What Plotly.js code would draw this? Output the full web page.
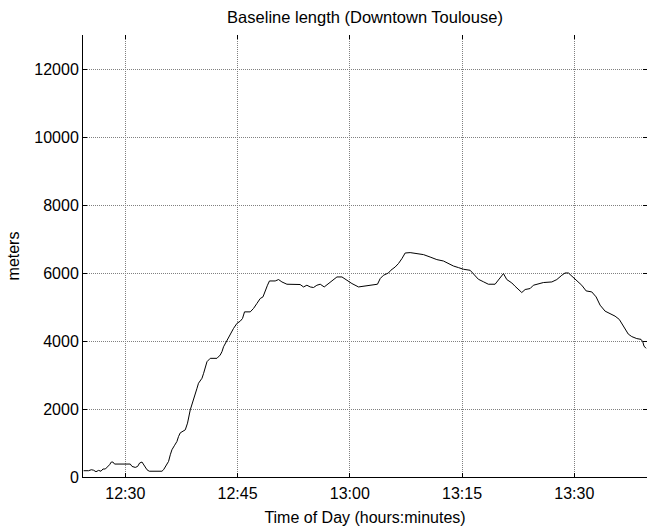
<!DOCTYPE html>
<html>
<head>
<meta charset="utf-8">
<script src="https://cdn.plot.ly/plotly-3.0.1.min.js"></script>
<style>
  html, body { margin: 0; padding: 0; background: #fff; }
  #chart { width: 649px; height: 526px; }
</style>
</head>
<body>
<div id="chart"></div>
<script>
// Time of day (HH:MM:SS) and baseline length in meters
var timeOfDay = [
  "12:24:26","12:25:06","12:25:28","12:25:46","12:26:05","12:26:26","12:26:45","12:27:01","12:27:20","12:27:38",
  "12:27:54","12:28:08","12:28:21","12:28:34","12:28:53","12:30:40","12:30:54","12:31:20","12:31:39","12:31:55",
  "12:32:14","12:32:27","12:32:40","12:32:54","12:33:12","12:34:54","12:35:07","12:35:29","12:35:47","12:36:01",
  "12:36:14","12:36:33","12:36:54","12:37:07","12:37:21","12:38:01","12:38:19","12:38:41","12:39:07","12:39:35",
  "12:39:47","12:40:15","12:40:28","12:40:41","12:40:55","12:41:21","12:42:15","12:42:41","12:42:55","12:43:08",
  "12:43:29","12:43:48","12:44:01","12:44:28","12:44:55","12:45:22","12:45:40","12:45:56","12:46:42","12:47:08",
  "12:47:35","12:48:02","12:48:24","12:48:42","12:49:00","12:49:16","12:50:02","12:50:29","12:50:56","12:51:36",
  "12:52:29","12:53:22","12:53:49","12:54:16","12:54:43","12:55:09","12:55:36","12:56:03","12:56:35","12:57:09",
  "12:57:49","12:58:17","12:58:57","12:59:37","13:00:17","13:01:10","13:01:50","13:03:10","13:03:42","13:04:04",
  "13:04:30","13:05:10","13:05:29","13:06:04","13:06:30","13:06:58","13:07:24","13:08:04","13:08:58","13:09:51",
  "13:10:44","13:11:38","13:12:31","13:13:11","13:13:51","13:14:31","13:15:11","13:16:05","13:16:31","13:17:11",
  "13:17:51","13:18:31","13:19:25","13:20:05","13:20:32","13:20:59","13:21:39","13:22:05","13:22:32","13:22:59",
  "13:23:26","13:24:06","13:24:32","13:25:12","13:25:52","13:27:00","13:27:40","13:28:20","13:28:46","13:29:13",
  "13:29:40","13:30:20","13:31:00","13:31:35","13:32:20","13:32:55","13:33:27","13:34:07","13:34:47","13:35:27",
  "13:36:01","13:36:29","13:36:47","13:37:13","13:37:41","13:38:21","13:38:55","13:39:09","13:39:19","13:39:35"
];
var meters = [
  185,185,214,199,155,194,170,235,235,287,
  361,440,440,381,381,381,311,282,311,411,
  440,370,282,214,170,170,214,361,458,654,
  801,918,1044,1191,1299,1387,1584,1974,2317,2610,
  2757,2904,3050,3197,3391,3490,3490,3587,3684,3830,
  3977,4124,4224,4370,4517,4584,4663,4857,4857,4957,
  5103,5250,5297,5494,5640,5766,5766,5807,5737,5670,
  5670,5661,5590,5640,5590,5573,5640,5670,5590,5690,
  5816,5884,5884,5787,5690,5590,5611,5661,5670,5837,
  5933,6001,6080,6177,6277,6423,6588,6600,6570,6541,
  6470,6394,6353,6277,6206,6159,6110,6080,5963,5816,
  5743,5670,5670,5837,5983,5807,5708,5611,5514,5426,
  5514,5543,5640,5670,5719,5737,5807,5933,6001,6001,
  5904,5787,5640,5473,5444,5297,5054,4878,4810,4731,
  4634,4467,4320,4203,4130,4071,4048,3977,3851,3784
];
var xTickTimes = ["12:30:00","12:45:00","13:00:00","13:15:00","13:30:00"];
var xTickLabels = ["12:30","12:45","13:00","13:15","13:30"];
var yTickValues = [0,2000,4000,6000,8000,10000,12000];
var yTickLabels = ["0","2000","4000","6000","8000","10000","12000"];
var xRange = ["12:24:21","13:39:43"];
var yRange = [0,13000];

var day = "2020-01-01 ";
function stamp(t) { return day + t; }

var font = { family: "Liberation Sans, Arial, sans-serif", size: 16, color: "#000" };
var titleFont = { family: "Liberation Sans, Arial, sans-serif", size: 16.5, color: "#000" };

var trace = {
  x: timeOfDay.map(stamp),
  y: meters,
  type: "scatter",
  mode: "lines",
  line: { color: "#000", width: 1 },
  hoverinfo: "skip",
  showlegend: false
};
// same series on the mirrored axes (invisible) so their tick marks are drawn
var mirrorTrace = {
  x: timeOfDay.map(stamp),
  y: meters,
  xaxis: "x2",
  yaxis: "y2",
  type: "scatter",
  mode: "lines",
  line: { color: "rgba(0,0,0,0)", width: 0 },
  hoverinfo: "skip",
  showlegend: false
};

var gridStyle = { showgrid: true, gridcolor: "#808080", griddash: "1px,1px", gridwidth: 1 };

var layout = {
  width: 649,
  height: 526,
  paper_bgcolor: "#fff",
  plot_bgcolor: "rgba(0,0,0,0)",
  margin: { l: 83, r: 2, t: 35, b: 49 },
  font: font,
  title: {
    text: "Baseline length (Downtown Toulouse)",
    font: titleFont,
    x: 0.5, xref: "paper",
    y: 1 - 17 / 526, yref: "container", yanchor: "middle"
  },
  xaxis: Object.assign({
    type: "date",
    range: xRange.map(stamp),
    tickmode: "array",
    tickvals: xTickTimes.map(stamp),
    ticktext: xTickLabels,
    ticks: "inside",
    ticklen: 4,
    tickcolor: "#000",
    ticklabelstandoff: 2,
    showline: true,
    linecolor: "#000",
    linewidth: 1,
    zeroline: false,
    tickfont: font,
    automargin: false,
    title: { text: "Time of Day (hours:minutes)", font: font, standoff: 10 }
  }, gridStyle),
  yaxis: Object.assign({
    range: yRange,
    tickmode: "array",
    tickvals: yTickValues,
    ticktext: yTickLabels,
    ticks: "inside",
    ticklen: 4,
    tickcolor: "#000",
    showline: true,
    linecolor: "#000",
    linewidth: 1,
    zeroline: false,
    tickfont: font,
    automargin: false,
    title: { text: "meters", font: font, standoff: 10 }
  }, gridStyle),
  xaxis2: {
    type: "date",
    overlaying: "x",
    side: "top",
    anchor: "y2",
    range: xRange.map(stamp),
    tickmode: "array",
    tickvals: xTickTimes.map(stamp),
    ticks: "inside",
    ticklen: 4,
    tickcolor: "#000",
    showticklabels: false,
    showline: false,
    showgrid: false,
    zeroline: false,
    automargin: false
  },
  yaxis2: {
    overlaying: "y",
    side: "right",
    anchor: "x2",
    range: yRange,
    tickmode: "array",
    tickvals: yTickValues,
    ticks: "inside",
    ticklen: 4,
    tickcolor: "#000",
    showticklabels: false,
    showline: false,
    showgrid: false,
    zeroline: false,
    automargin: false
  }
};

Plotly.newPlot("chart", [trace, mirrorTrace], layout, { staticPlot: true, displayModeBar: false });
</script>
</body>
</html>
